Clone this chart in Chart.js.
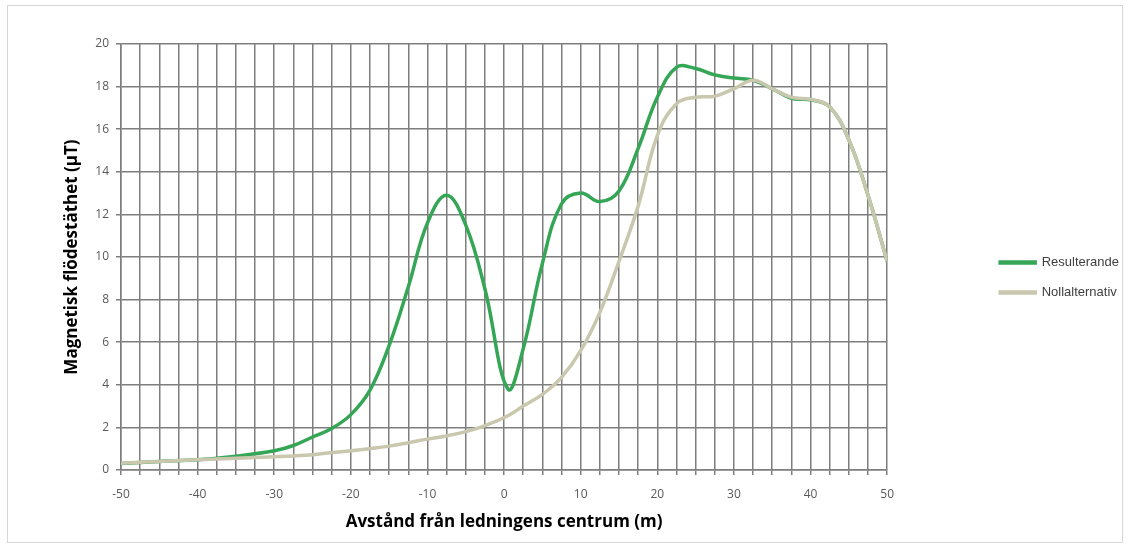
<!DOCTYPE html>
<html><head><meta charset="utf-8">
<script src="https://cdn.jsdelivr.net/npm/chart.js@4/dist/chart.umd.min.js"></script>
<style>
html,body{margin:0;padding:0;background:#fff;}
#wrap{position:relative;width:1129px;height:547px;}
#frame{position:absolute;left:7px;top:5px;width:1114px;height:536px;border:1px solid #d6d6d6;pointer-events:none;}
</style></head><body>
<div id="wrap"><canvas id="c" width="1129" height="547"></canvas><div id="frame"></div></div>
<script>
// Distance from line centre (m)
const distances = [-50,-45,-40,-35,-30,-27.5,-25,-22.5,-20,-17.5,-15,-12.5,-10,-7.5,-5,-2.5,0.5,2.5,5,7.5,10,12.5,15,17.5,20,22.5,25,27.5,30,32.5,35,37.5,40,42.5,45,47.5,50];
// Magnetic flux density (µT)
const resulterande = [0.30,0.40,0.48,0.65,0.90,1.15,1.55,1.95,2.6,3.75,5.85,8.6,11.6,12.9,11.5,8.5,3.8,5.7,9.7,12.5,13.0,12.6,13.1,15.1,17.5,18.9,18.85,18.55,18.4,18.3,17.9,17.45,17.38,17.05,15.5,12.9,9.8];
const nollalternativ = [0.32,0.40,0.48,0.55,0.62,0.66,0.72,0.82,0.90,1.00,1.12,1.28,1.45,1.60,1.80,2.08,2.55,3.0,3.55,4.35,5.6,7.4,9.8,12.4,15.7,17.2,17.5,17.55,17.9,18.3,17.9,17.5,17.4,17.05,15.5,12.9,9.8];
const xTickLabels = [-50,-40,-30,-20,-10,0,10,20,30,40,50];
const seriesNames = ['Resulterande','Nollalternativ'];

const toPts = ys => distances.map((x,i)=>({x:x,y:ys[i]}));
const gridColor = '#7e7e7e';
const tickFont = {family:'"Open Sans", "Liberation Sans", sans-serif', size:12};
const titleFont = {family:'"Open Sans", "Liberation Sans", sans-serif', size:17, weight:'bold'};

new Chart(document.getElementById('c'), {
  type:'line',
  data:{datasets:[
    {label:seriesNames[0], data:toPts(resulterande), borderColor:'#35a556', backgroundColor:'#35a556', borderWidth:3.5, pointRadius:0, tension:0.4, order:1},
    {label:seriesNames[1], data:toPts(nollalternativ), borderColor:'#c9c7ad', backgroundColor:'#c9c7ad', borderWidth:3.5, pointRadius:0, tension:0.4, order:0}
  ]},
  options:{
    responsive:false, devicePixelRatio:1, animation:false,
    layout:{padding:{top:8,left:0,right:0,bottom:0}},
    plugins:{
      tooltip:{enabled:false},
      legend:{position:'right', align:'center',
        labels:{boxWidth:35, boxHeight:1, padding:17, color:'#404040', font:{family:'"Liberation Sans", sans-serif', size:13},
          sort:(a,b)=>a.datasetIndex-b.datasetIndex}}
    },
    scales:{
      x:{type:'linear', min:-50, max:50,
        grid:{color:gridColor, lineWidth:1.5, tickLength:5},
        border:{color:gridColor, width:1.5},
        ticks:{stepSize:2.5, autoSkip:false, maxRotation:0, padding:12, color:'#595959', font:tickFont,
          callback:v=> xTickLabels.includes(v) ? String(v) : ''},
        title:{display:true, text:'Avstånd från ledningens centrum (m)', color:'#000', font:titleFont, padding:{top:0,bottom:15}},
        afterFit:s=>{s.height=77;}
      },
      xTop:{type:'linear', position:'top', min:0, max:1, grid:{display:false}, border:{display:false}, ticks:{display:false},
        afterFit:s=>{s.height=36;}},
      y:{min:0, max:20,
        grid:{color:gridColor, lineWidth:1.5, tickLength:5},
        border:{color:gridColor, width:1.5},
        ticks:{stepSize:2, padding:7, color:'#595959', font:tickFont},
        title:{display:true, text:'Magnetisk flödestäthet (µT)', color:'#000', font:titleFont, padding:{top:62,bottom:0}},
        afterFit:s=>{s.width=121;}
      },
      yR:{position:'right', min:0, max:1, grid:{display:false}, border:{display:false}, ticks:{display:false},
        afterFit:s=>{s.width=96;}}
    }
  }
});
</script>
</body></html>
